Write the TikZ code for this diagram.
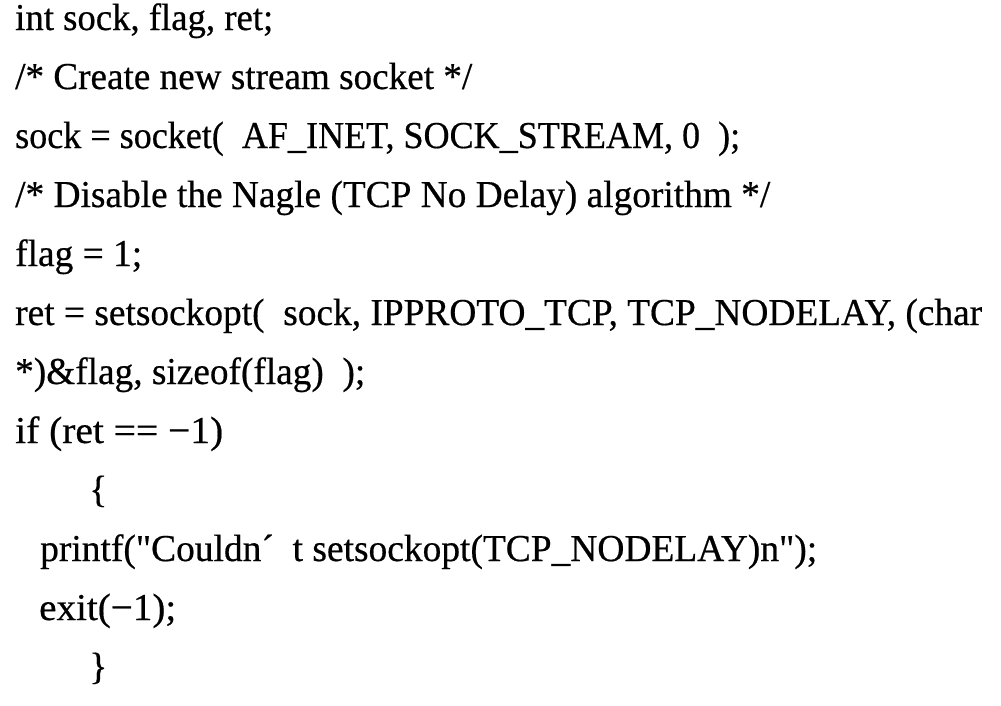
\documentclass[tikz,border=0pt]{standalone}
\usepackage{fontspec}
\setmainfont{Liberation Serif}[Ligatures=TeXOff, FakeBold=0.5]
\usepackage{graphicx}
\tikzset{
  codeline/.style={anchor=base west, inner sep=0pt, font=\fontsize{38pt}{40pt}\selectfont, text=black}
}
\begin{document}
\begin{tikzpicture}[x=1pt,y=1pt]
\fill[white] (0,0) rectangle (1001,-705);
\useasboundingbox (0,0) rectangle (1001,-705);
\node[codeline] (l1) at (15,-30) {\resizebox{258pt}{\height}{int sock, flag, ret;}};
\node[codeline] (l2) at (15,-89) {\resizebox{457pt}{\height}{/* Create new stream socket */}};
\node[codeline] (l3) at (15,-148) {\resizebox{725pt}{\height}{sock = socket(\ \ AF\_INET, SOCK\_STREAM, 0\ \ );}};
\node[codeline] (l4) at (15,-207) {\resizebox{755pt}{\height}{/* Disable the Nagle (TCP No Delay) algorithm */}};
\node[codeline] (l5) at (15,-266) {\resizebox{127pt}{\height}{flag = 1;}};
\node[codeline] (l6) at (15,-325) {\resizebox{967pt}{\height}{ret = setsockopt(\ \ sock, IPPROTO\_TCP, TCP\_NODELAY, (char}};
\node[codeline] (l7) at (15,-384) {\resizebox{350pt}{\height}{*)\&flag, sizeof(flag)\ \ );}};
\node[codeline] (l8) at (15,-443) {\resizebox{208pt}{\height}{if (ret == −1)}};
\node[codeline] (l9) at (89,-502) {\{};
\node[codeline] (l10) at (40,-561) {\resizebox{777pt}{\height}{printf("Couldn´\ \ t setsockopt(TCP\_NODELAY)n");}};
\node[codeline] (l11) at (39,-620) {\resizebox{137pt}{\height}{exit(−1);}};
\node[codeline] (l12) at (89,-679) {\}};
\end{tikzpicture}
\end{document}
